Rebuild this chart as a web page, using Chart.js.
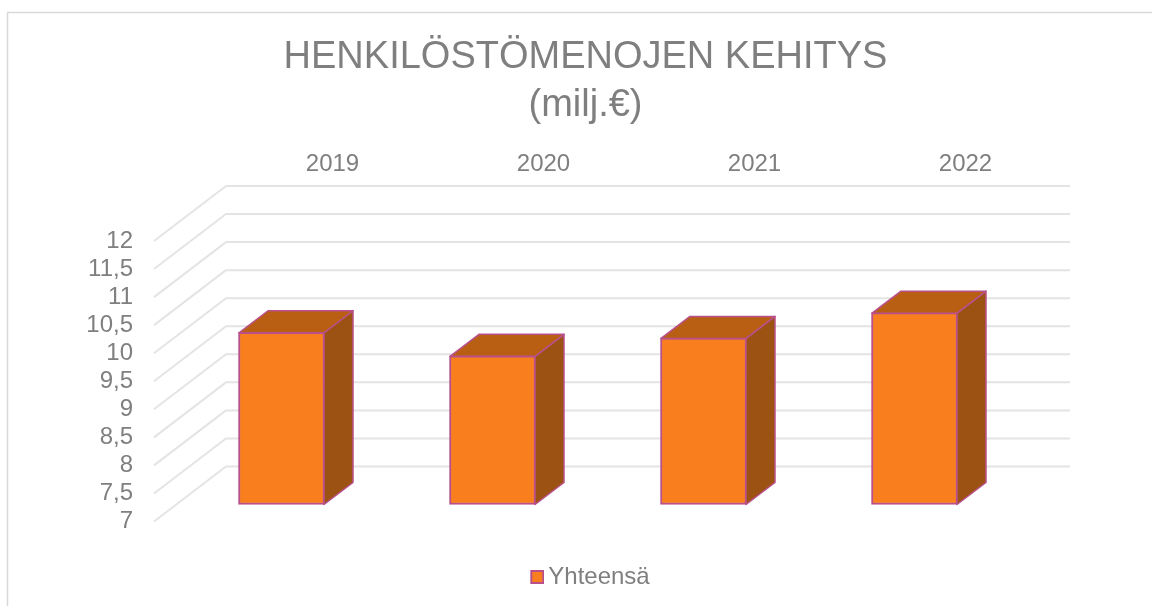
<!DOCTYPE html>
<html>
<head>
<meta charset="utf-8">
<style>html,body{margin:0;padding:0;background:#fff;overflow:hidden}#w{width:1152px;height:606px}canvas{display:block}</style>
<script src="https://cdn.jsdelivr.net/npm/chart.js@4"></script>
</head>
<body>
<div id="w"><canvas id="c" width="1152" height="606"></canvas></div>
<script>
const categories = ["2019", "2020", "2021", "2022"];
const seriesName = "Yhteensä";
const seriesValues = [10.07, 9.65, 9.97, 10.42];
const titleLines = ["HENKILÖSTÖMENOJEN KEHITYS", "(milj.€)"];
const axisMin = 7, axisMax = 12, axisStep = 0.5;

const FONT = "'Liberation Sans', Arial, sans-serif";
const TEXT = "#7f7f7f", GRID = "#e4e4e4", FRAME = "#d9d9d9";
const FACE = "#f97f1e", SIDE = "#9c5212", TOP = "#b85f14", EDGE = "#b9508c";

// legend swatch: an image whose visible square sits to the right of its centre
const swatch = document.createElement("canvas");
swatch.width = 31; swatch.height = 14;
(function () {
  const g = swatch.getContext("2d");
  g.fillStyle = EDGE; g.fillRect(17, 0, 14, 14);
  g.fillStyle = FACE; g.fillRect(19, 2, 10, 10);
})();

const frame3d = {
  id: "frame3d",
  beforeDraw(chart) {
    const g = chart.ctx;
    g.save();
    g.strokeStyle = FRAME; g.lineWidth = 1.5;
    g.beginPath(); g.moveTo(7.5, 606); g.lineTo(7.5, 12.5); g.lineTo(1152, 12.5); g.stroke();
    g.restore();
  },
  beforeDatasetsDraw(chart) {
    const g = chart.ctx, y = chart.scales.y, a = chart.chartArea;
    g.save();
    g.strokeStyle = GRID; g.lineWidth = 2; g.lineJoin = "round";
    y.ticks.forEach(t => {
      const p = y.getPixelForValue(t.value);
      g.beginPath();
      g.moveTo(a.left - 22, p + 17);
      g.lineTo(a.left + 50, p - 38);
      g.lineTo(a.right + 50, p - 38);
      g.stroke();
    });
    g.restore();
  },
  afterDatasetsDraw(chart) {
    const g = chart.ctx, dx = 29, dy = 22;
    g.save();
    g.strokeStyle = EDGE; g.lineWidth = 1.5; g.lineJoin = "round";
    chart.getDatasetMeta(0).data.forEach(b => {
      const r = b.x + b.width / 2 - 0.5, l = b.x - b.width / 2 + 0.5, t = b.y + 0.5, bt = b.base;
      g.fillStyle = SIDE;
      g.beginPath(); g.moveTo(r, t); g.lineTo(r + dx, t - dy); g.lineTo(r + dx, bt - dy); g.lineTo(r, bt); g.closePath(); g.fill(); g.stroke();
      g.fillStyle = TOP;
      g.beginPath(); g.moveTo(l, t); g.lineTo(l + dx, t - dy); g.lineTo(r + dx, t - dy); g.lineTo(r, t); g.closePath(); g.fill(); g.stroke();
    });
    g.restore();
  }
};

new Chart(document.getElementById("c"), {
  type: "bar",
  data: {
    labels: categories,
    datasets: [{
      label: seriesName,
      data: seriesValues,
      base: axisMin,
      backgroundColor: FACE,
      borderColor: EDGE,
      borderWidth: 2,
      borderSkipped: false,
      barThickness: 86,
      clip: false,
      xAxisID: "x",
      yAxisID: "y"
    }]
  },
  options: {
    responsive: false,
    animation: false,
    layout: { padding: { left: 19, right: 0, top: 0, bottom: 7 } },
    scales: {
      x: {
        position: "top",
        grid: { display: false, drawTicks: false },
        border: { display: false },
        ticks: { color: TEXT, font: { family: FONT, size: 24 }, padding: 45, labelOffset: 51, maxRotation: 0 },
        afterFit(s) { s.height = 94; }
      },
      x2: {
        position: "bottom",
        grid: { display: false, drawTicks: false },
        border: { display: false },
        ticks: { display: false },
        afterFit(s) { s.height = 45; }
      },
      y: {
        position: "left",
        min: axisMin, max: axisMax,
        grid: { display: false, drawTicks: false },
        border: { display: false },
        ticks: {
          stepSize: axisStep,
          autoSkip: false,
          color: TEXT,
          font: { family: FONT, size: 24 },
          padding: 43,
          labelOffset: 17,
          callback: v => String(v).replace(".", ",")
        },
        afterFit(s) { s.width = 157; }
      },
      y2: {
        position: "right",
        grid: { display: false, drawTicks: false },
        border: { display: false },
        ticks: { display: false },
        afterFit(s) { s.width = 132; }
      }
    },
    plugins: {
      tooltip: { enabled: false },
      title: {
        display: true,
        text: titleLines,
        color: TEXT,
        font: { family: FONT, size: 38, weight: "normal", lineHeight: 48 / 38 },
        padding: { top: 34, bottom: 0 }
      },
      legend: {
        position: "bottom",
        labels: {
          color: TEXT,
          font: { family: FONT, size: 24 },
          padding: 15.5,
          usePointStyle: true,
          pointStyle: swatch,
          pointStyleWidth: 15,
          boxHeight: 14
        }
      }
    }
  },
  plugins: [frame3d]
});
</script>
</body>
</html>
